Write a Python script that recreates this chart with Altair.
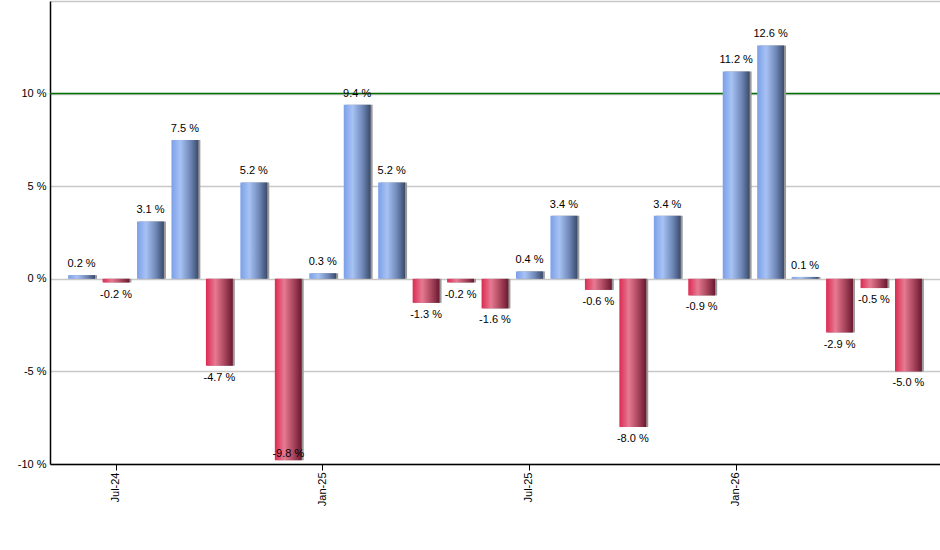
import altair as alt
import pandas as pd

months = ["Jun-24", "Jul-24", "Aug-24", "Sep-24", "Oct-24", "Nov-24", "Dec-24",
          "Jan-25", "Feb-25", "Mar-25", "Apr-25", "May-25", "Jun-25",
          "Jul-25", "Aug-25", "Sep-25", "Oct-25", "Nov-25", "Dec-25",
          "Jan-26", "Feb-26", "Mar-26", "Apr-26", "May-26", "Jun-26"]
values = [0.2, -0.2, 3.1, 7.5, -4.7, 5.2, -9.8,
          0.3, 9.4, 5.2, -1.3, -0.2, -1.6,
          0.4, 3.4, -0.6, -8.0, 3.4, -0.9,
          11.2, 12.6, 0.1, -2.9, -0.5, -5.0]
tick_months = ["Jul-24", "Jan-25", "Jul-25", "Jan-26"]
y_ticks = [-10, -5, 0, 5, 10, 15]
highlight_lines = [10]

df = pd.DataFrame({
    "month": months,
    "value": values,
    "label": [f"{v:.1f} %" for v in values],
})

FONT = "Liberation Sans"

x = alt.X("month:N", sort=months, title=None,
          scale=alt.Scale(paddingInner=0.22, paddingOuter=0.526),
          axis=alt.Axis(values=tick_months, labelAngle=-90, tickSize=6,
                        tickColor="black", domainColor="black", domainWidth=1.5,
                        labelFont=FONT, labelFontSize=11, labelColor="black",
                        labelPadding=2, grid=False))
y_scale = alt.Scale(domain=[-10, 15], nice=False, zero=False)
y = alt.Y("value:Q", scale=y_scale, title=None,
          axis=alt.Axis(values=y_ticks,
                        labelExpr="datum.value == 15 ? '' : datum.value + ' %'",
                        ticks=False, labelPadding=4, domainColor="black",
                        domainWidth=1.5, gridColor="#c8c8c8", gridWidth=1.5,
                        labelFont=FONT, labelFontSize=11, labelColor="black"))

base = alt.Chart(df)

ref = alt.Chart(pd.DataFrame({"v": highlight_lines})).mark_rule(
    color="#007000", strokeWidth=1.5
).encode(y=alt.Y("v:Q", scale=y_scale))

blue = alt.Gradient(gradient="linear", x1=0, x2=1, y1=0, y2=0, stops=[
    alt.GradientStop(color="#7b9fe8", offset=0),
    alt.GradientStop(color="#a7c2f4", offset=0.33),
    alt.GradientStop(color="#6f88b8", offset=0.7),
    alt.GradientStop(color="#3a4a6a", offset=1),
])
red = alt.Gradient(gradient="linear", x1=0, x2=1, y1=0, y2=0, stops=[
    alt.GradientStop(color="#dc2a52", offset=0),
    alt.GradientStop(color="#e67a92", offset=0.35),
    alt.GradientStop(color="#a8455c", offset=0.7),
    alt.GradientStop(color="#6a1830", offset=1),
])

shadow = base.mark_bar(color="#9a9a9a", xOffset=2).encode(
    x=x, y=y, y2=alt.datum(0))
pos = base.transform_filter("datum.value >= 0").mark_bar(color=blue).encode(
    x=x, y=y, y2=alt.datum(0))
neg = base.transform_filter("datum.value < 0").mark_bar(color=red).encode(
    x=x, y=y, y2=alt.datum(0))

pos_text = base.transform_filter("datum.value >= 0").mark_text(
    baseline="bottom", dy=-6, font=FONT, fontSize=11, color="black"
).encode(x=x, y=alt.Y("value:Q", scale=y_scale), text="label:N")
neg_text = base.transform_filter("datum.value < 0").transform_calculate(
    lab_y="max(datum.value, -8.8)"
).mark_text(
    baseline="top", dy=6, font=FONT, fontSize=11, color="black"
).encode(x=x, y=alt.Y("lab_y:Q", scale=y_scale), text="label:N")

chart = alt.layer(ref, shadow, pos, neg, pos_text, neg_text).properties(
    width=890, height=463,
    autosize=alt.AutoSizeParams(type="none"),
    padding={"left": 50, "top": 1, "right": 0, "bottom": 86},
    background="white",
).configure_view(stroke=None)

chart.save("out.html", embed_options={"renderer": "svg", "actions": False})
